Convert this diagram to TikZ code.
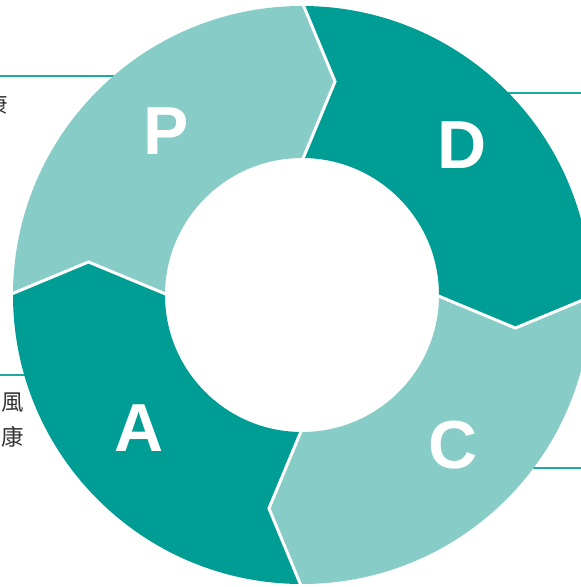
\documentclass[tikz,border=0pt]{standalone}
\usepackage{fontspec}
\setmainfont{Liberation Sans}
\newfontfamily\cjk{Noto Sans CJK TC}
\definecolor{tealdark}{RGB}{0,157,148}
\definecolor{teallight}{RGB}{136,204,200}
\definecolor{leadline}{RGB}{30,170,160}
\definecolor{txtgray}{RGB}{51,51,51}

\begin{document}
\begin{tikzpicture}[x=1pt, y=1pt,
    every node/.append style={align=center},
    lbl/.style={text=white, inner sep=0pt, font=\fontsize{68}{68}\selectfont\bfseries},
    note/.style={text=txtgray, inner sep=0pt, font=\cjk\fontsize{22.5}{22.5}\selectfont},
    lead/.style={draw=leadline, line width=1.5pt}]
   \useasboundingbox (-302,-292) rectangle (279,295);
   \clip (-302,-292) rectangle (279,295);
   % leader lines, ends hidden under the ring
   \coordinate (tl) at (-302,219);  \coordinate (tlin) at (-150,219);
   \coordinate (tr) at (279,202);   \coordinate (trin) at (180,202);
   \coordinate (bl) at (-302,-80);  \coordinate (blin) at (-250,-80);
   \coordinate (br) at (279,-173);  \coordinate (brin) at (200,-173);
   \draw[lead] (tl) -- (tlin);
   \draw[lead] (tr) -- (trin);
   \draw[lead] (bl) -- (blin);
   \draw[lead] (br) -- (brin);
   % ring segments
   \foreach \b/\col in {90/teallight, 0/tealdark, -90/teallight, 180/tealdark}
     \fill[\col] (\b:289) arc[start angle=\b, end angle=\b+90, radius=289]
        -- (\b+81.2:216) -- (\b+90:137)
        arc[start angle=\b+90, end angle=\b, radius=137]
        -- (\b-8.8:216) -- cycle;
   \foreach \b in {90, 0, -90, 180}
     \draw[white, line width=3pt] (\b:293) -- (\b-8.8:216) -- (\b:134);
   % letters
   \node[lbl] (P) at (-135.5,163.5) {P};
   \node[lbl] (D) at (160,149.5)    {D};
   \node[lbl] (C) at (151,-150)     {C};
   \node[lbl] (A) at (-163,-133.5)  {A};
   % side notes
   \node[note, anchor=east] (n1) at (-294,190)  {康};
   \node[note, anchor=west] (n2) at (-301,-108) {風};
   \node[note, anchor=west] (n3) at (-301,-142) {康};
\end{tikzpicture}
\end{document}
